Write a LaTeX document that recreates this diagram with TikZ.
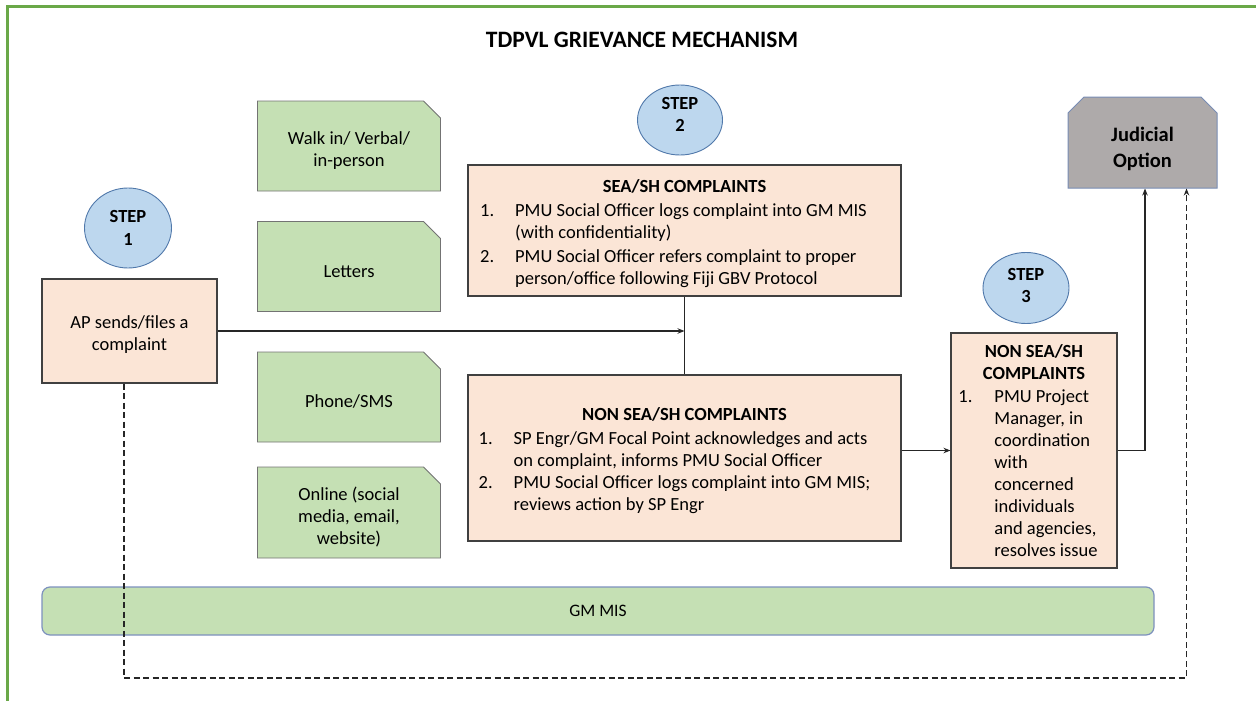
\documentclass[tikz,border=0pt]{standalone}
\usepackage{fontspec}
\setmainfont{Carlito}
\usetikzlibrary{arrows.meta,positioning,shapes.geometric,shapes.misc}
\definecolor{peachcol}{RGB}{251,229,214}
\definecolor{notecol}{RGB}{197,224,180}
\definecolor{stepcol}{RGB}{189,215,238}
\definecolor{stepedge}{RGB}{80,120,170}
\definecolor{judgecol}{RGB}{174,170,170}
\definecolor{judgeedge}{RGB}{120,140,180}
\definecolor{framecol}{RGB}{106,168,72}
\definecolor{misedge}{RGB}{125,145,190}
\newcommand{\bodyfont}{\fontsize{18.5}{22}\selectfont}
\newcommand{\lift}{\rule{0pt}{22pt}}

\begin{document}
\begin{tikzpicture}[x=1pt,y=-1pt,>={Stealth[length=7pt,width=5.5pt]},
  peachbox/.style={draw=black!75,line width=1.1pt,fill=peachcol,font=\bodyfont,align=center,inner sep=0pt},
  notebox/.style={chamfered rectangle,chamfered rectangle corners=north east,
    chamfered rectangle sep=8.5pt,draw=black!55,line width=0.9pt,fill=notecol,
    font=\bodyfont,align=center,minimum width=183pt,minimum height=90pt,inner sep=0pt},
  stepball/.style={ellipse,draw=stepedge,line width=0.9pt,fill=stepcol,
    font=\bodyfont\bfseries,align=center,inner sep=0pt},
  link/.style={line width=1.1pt,black!85}]
\useasboundingbox (0,0) rectangle (1256,701);
% ---- outer frame ----
\draw[framecol,line width=3pt] (7,701) -- (7,7) -- (1256,7);
\node[font=\fontsize{23.5}{28}\selectfont\bfseries] (title) at (642,40) {TDPVL GRIEVANCE MECHANISM};

% ---- step 1: complaint filed ----
\node[stepball,minimum width=87pt,minimum height=80pt] (step1) at (128,228) {STEP\\[1pt]1};
\node[peachbox,minimum width=175pt,minimum height=104pt] (ap) at (129.5,331) {\rule{0pt}{20pt}AP sends/files a\\complaint};

% ---- channels ----
\node[notebox] (walk) at (349,146) {\lift Walk in/ Verbal/\\in-person};
\node[notebox] (letters) at (349,266.5) {\lift Letters};
\node[notebox] (phone) at (349,397) {\lift Phone/SMS};
\node[notebox,minimum height=91pt] (online) at (349,512.5) {\lift Online (social\\media, email,\\website)};

% ---- step 2: two streams ----
\node[stepball,minimum width=85pt,minimum height=70pt] (step2) at (680,120) {STEP\\2\rule[-11pt]{0pt}{0pt}};
\node[peachbox,minimum width=433pt,minimum height=131pt] (sea) at (684.5,230.5) {\lift\textbf{SEA/SH COMPLAINTS}\\[2pt]
  \begin{tabular}[t]{@{}p{35pt}@{}l@{}}
  1. & PMU Social Officer logs complaint into GM MIS\\
     & (with confidentiality)\\[2pt]
  2. & PMU Social Officer refers complaint to proper\\
     & person/office following Fiji GBV Protocol
  \end{tabular}\hspace*{22pt}};
\node[peachbox,minimum width=433pt,minimum height=166pt] (non) at (684.5,458) {\lift\textbf{NON SEA/SH COMPLAINTS}\\[2pt]
  \begin{tabular}[t]{@{}p{35pt}@{}l@{}}
  1. & SP Engr/GM Focal Point acknowledges and acts\\
     & on complaint, informs PMU Social Officer\\
  2. & PMU Social Officer logs complaint into GM MIS;\\
     & reviews action by SP Engr
  \end{tabular}\hspace*{20pt}};

% ---- step 3: resolution ----
\node[stepball,minimum width=86pt,minimum height=71pt] (step3) at (1026,288) {STEP\\3\rule[-6pt]{0pt}{0pt}};
\node[peachbox,minimum width=166pt,minimum height=235pt] (pmu) at (1034,450.5) {\rule{0pt}{20pt}\textbf{NON SEA/SH}\\\textbf{COMPLAINTS}\\[1pt]
  \begin{tabular}[t]{@{}p{36pt}@{}l@{}}
  1. & PMU Project\\ & Manager, in\\ & coordination\\ & with\\ & concerned\\
     & individuals\\ & and agencies,\\ & resolves issue
  \end{tabular}\hspace*{12pt}};
\node[chamfered rectangle,chamfered rectangle corners={north west,north east},
  chamfered rectangle sep=8pt,draw=judgeedge,line width=1pt,fill=judgecol,
  minimum width=149pt,minimum height=91pt,inner sep=0pt,align=center,
  font=\fontsize{20.5}{26}\selectfont\bfseries] (judge) at (1142.5,142.5) {\rule{0pt}{27pt}Judicial\\Option};

% ---- database bar ----
\node[draw=misedge,line width=1.2pt,fill=notecol,rounded corners=8pt,
  minimum width=1112pt,minimum height=48pt,font=\fontsize{17.5}{21}\selectfont] (mis) at (598,611) {GM MIS};

% ---- connectors ----
\coordinate (dashbot) at (600,678);
\draw[link] (sea.south) -- (non.north);
\draw[link,->] (ap.east) -- (ap.east -| sea.south);
\draw[link,->] (non.east |- pmu.west) -- (pmu.west);
\draw[link,->] (pmu.east) -| ([xshift=2.5pt]judge.south);
\draw[link,dash pattern=on 6pt off 3.5pt,->] ([xshift=-5.5pt]ap.south) |- (dashbot) -| ([xshift=44pt]judge.south);
\end{tikzpicture}
\end{document}
